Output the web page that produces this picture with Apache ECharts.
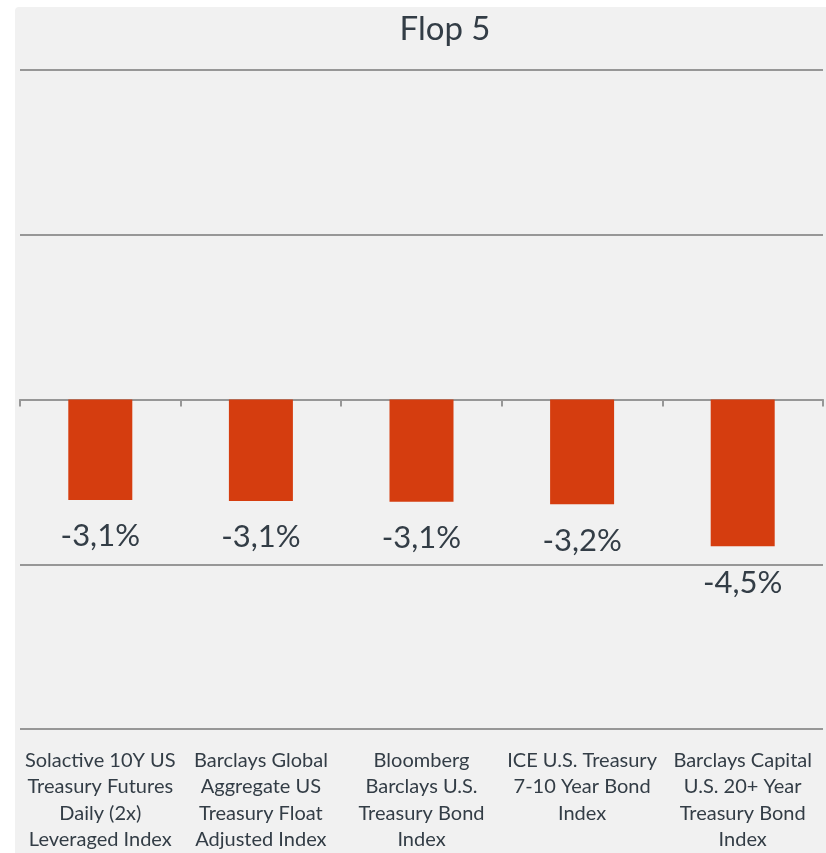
<!DOCTYPE html>
<html><head><meta charset="utf-8">
<script src="https://cdn.jsdelivr.net/npm/echarts@6/dist/echarts.min.js"></script>
<style>
html,body{margin:0;padding:0;background:#ffffff;}
#wrap{position:absolute;left:15px;top:7px;width:811px;height:846px;background:#f1f1f1;border-top-left-radius:4px;}
#chart{position:absolute;left:0;top:0;width:826px;height:853px;}
</style></head>
<body>
<div id="wrap"></div>
<div id="chart"></div>
<script>
const titleText = 'Flop 5';
const categories = [
  'Solactive 10Y US\nTreasury Futures\nDaily (2x)\nLeveraged Index',
  'Barclays Global\nAggregate US\nTreasury Float\nAdjusted Index',
  'Bloomberg\nBarclays U.S.\nTreasury Bond\nIndex',
  'ICE U.S. Treasury\n7-10 Year Bond\nIndex',
  'Barclays Capital\nU.S. 20+ Year\nTreasury Bond\nIndex'
];
const values = [-3.05, -3.08, -3.10, -3.18, -4.45];
const valueLabels = ['-3,1%', '-3,1%', '-3,1%', '-3,2%', '-4,5%'];

const FONT = 'Lato, "Open Sans", sans-serif';
const TEXT = '#333d46';
const GRID = '#979797';

const chart = echarts.init(document.getElementById('chart'), null, {renderer: 'canvas'});
chart.setOption({
  backgroundColor: 'transparent',
  animation: false,
  title: {
    text: titleText, left: 440, top: 8, textAlign: 'center',
    textStyle: {fontFamily: FONT, fontSize: 33, fontWeight: 'normal', color: TEXT}
  },
  grid: {left: 20, right: 3, top: 70, bottom: 121, containLabel: false},
  xAxis: [
    {
      type: 'category', data: categories, position: 'bottom',
      axisLine: {show: true, onZero: true, lineStyle: {color: GRID, width: 2}},
      axisTick: {show: true, length: 7, lineStyle: {color: GRID, width: 2}},
      axisLabel: {show: false}
    },
    {
      type: 'category', data: categories, position: 'bottom',
      axisLine: {show: false, onZero: false},
      axisTick: {show: false},
      axisLabel: {
        show: true, interval: 0, margin: 18, verticalAlign: 'top',
        fontFamily: FONT, fontSize: 20, lineHeight: 26.5, color: TEXT, align: 'center'
      }
    }
  ],
  yAxis: {
    type: 'value', min: -10, max: 10, interval: 5,
    axisLabel: {show: false}, axisLine: {show: false}, axisTick: {show: false},
    splitLine: {show: true, lineStyle: {color: GRID, width: 2}}
  },
  series: [{
    type: 'bar', xAxisIndex: 0, data: values, barWidth: 64,
    itemStyle: {color: '#d53d0f'},
    label: {
      show: true, position: 'bottom', distance: 21,
      formatter: p => valueLabels[p.dataIndex],
      fontFamily: FONT, fontSize: 31, color: TEXT
    }
  }]
});
</script>
</body></html>
